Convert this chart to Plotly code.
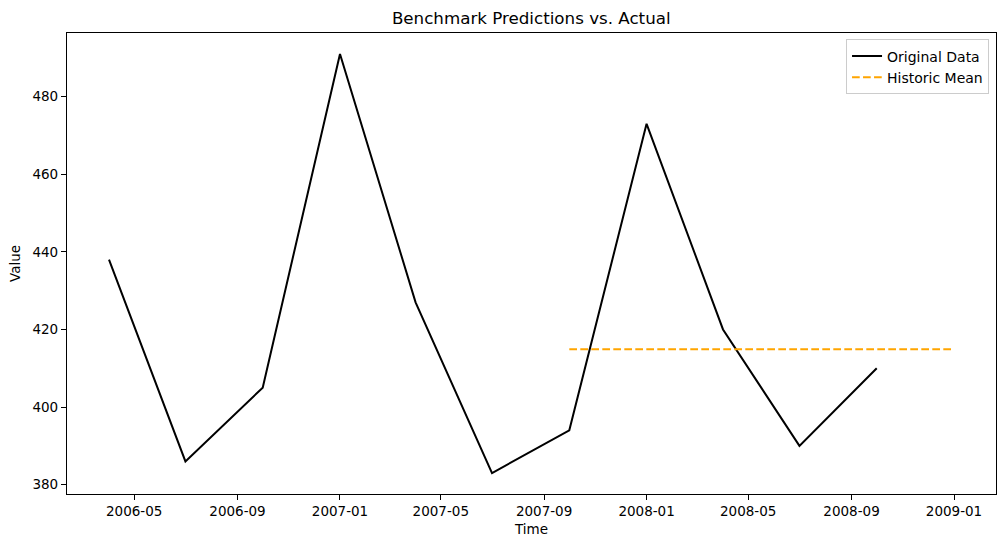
import plotly.graph_objects as go

dates = ["2006-04-01", "2006-07-01", "2006-10-01", "2007-01-01", "2007-04-01",
         "2007-07-01", "2007-10-01", "2008-01-01", "2008-04-01", "2008-07-01", "2008-10-01"]
values = [438, 386, 405, 491, 427, 383, 394, 473, 420, 390, 410]

mean_dates = ["2007-10-01", "2008-01-01", "2008-04-01", "2008-07-01", "2008-10-01", "2009-01-01"]
mean_values = [414.9, 414.9, 414.9, 414.9, 414.9, 414.9]

y_ticks = [380, 400, 420, 440, 460, 480]

font = "DejaVu Sans, Liberation Sans, sans-serif"

fig = go.Figure()
fig.add_trace(go.Scatter(x=dates, y=values, mode="lines", name="Original Data",
                         line=dict(color="black", width=2)))
fig.add_trace(go.Scatter(x=mean_dates, y=mean_values, mode="lines", name="Historic Mean",
                         line=dict(color="orange", width=2, dash="7.7px,3.3px")))

fig.update_layout(
    width=1005, height=547,
    margin=dict(l=66.5, r=9, t=32.5, b=53),
    paper_bgcolor="white", plot_bgcolor="white",
    font=dict(family=font, size=13.5, color="black"),
    title=dict(text="Benchmark Predictions vs. Actual", x=(66.5 + 996) / 2 / 1005, xanchor="center",
               y=1 - 18 / 547, yanchor="middle", font=dict(size=16.7, family=font, color="black")),
    showlegend=True,
    legend=dict(x=0.9925, y=0.986, xanchor="right", yanchor="top",
                bgcolor="rgba(255,255,255,0.8)", bordercolor="#cccccc", borderwidth=1,
                font=dict(size=14, family=font), itemwidth=30),
)
fig.update_xaxes(
    range=["2006-02-10", "2009-02-20"],
    tickformat="%Y-%m", dtick="M4", tick0="2006-01-01",
    showgrid=False, zeroline=False,
    showline=True, linecolor="black", linewidth=1.2, mirror=True,
    ticks="outside", ticklen=5, tickcolor="black",
    title=dict(text="Time", font=dict(size=13.5, family=font), standoff=6),
)
fig.update_yaxes(
    range=[377.6, 496.4],
    tickvals=y_ticks,
    showgrid=False, zeroline=False,
    showline=True, linecolor="black", linewidth=1.2, mirror=True,
    ticks="outside", ticklen=5, tickcolor="black",
    title=dict(text="Value", font=dict(size=13.5, family=font), standoff=8),
)

fig.write_html("out.html", config={"displayModeBar": False},
               post_script="document.body.style.margin='0';document.body.style.padding='0';")
